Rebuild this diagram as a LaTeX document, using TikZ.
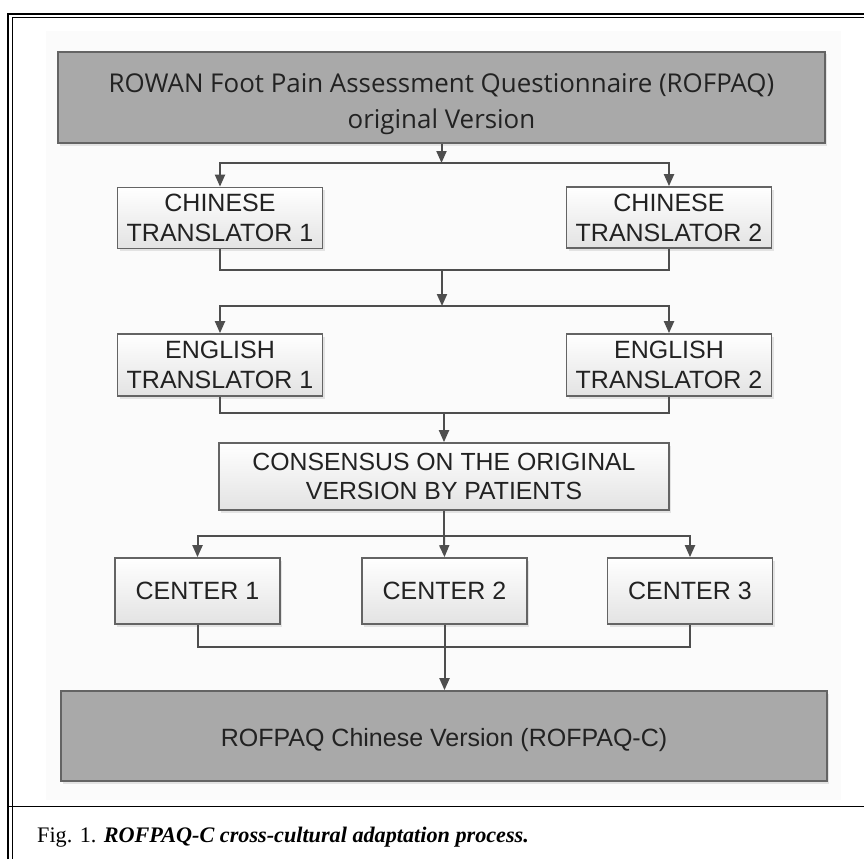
\documentclass[tikz,border=0pt]{standalone}
\usepackage{fontspec}
\setmainfont{Liberation Serif}
\newfontfamily\arialf{Liberation Sans}
\newfontfamily\opensf{Open Sans}
\usetikzlibrary{arrows.meta,shadows}
\definecolor{darkfill}{HTML}{A9A9A9}
\definecolor{boxline}{HTML}{646464}
\definecolor{connline}{HTML}{4E4E4E}
\definecolor{txt}{HTML}{222222}
\definecolor{bgtint}{HTML}{FBFBFB}
\tikzset{
  boxshadow/.style={drop shadow={shadow xshift=2pt,shadow yshift=-2.5pt,fill=black!20}},
  darkbox/.style={draw=boxline,line width=1.7pt,fill=darkfill,boxshadow,
    text=txt,align=center,inner sep=2pt},
  lightbox/.style={draw=boxline,line width=1.7pt,top color=white,bottom color=black!11,
    boxshadow,text=txt,align=center,inner sep=2pt,
    font=\arialf\fontsize{25}{30}\selectfont},
  conn/.style={draw=connline,line width=2pt},
  arr/.style={conn,-{Triangle[length=12pt,width=10pt]}},
}
\begin{document}
\begin{tikzpicture}[x=1pt,y=-1pt]
\useasboundingbox (0,0) rectangle (864,859);
% background tint and frame
\fill[bgtint] (46,31) rectangle (841,800);
\draw[line width=2.2pt,black] (8.3,859) -- (8.3,13.8) -- (864,13.8);
\draw[line width=1pt,black] (12,859) -- (12,17.5) -- (864,17.5);
\draw[line width=1.1pt,black] (8,806.5) -- (864,806.5);
% nodes
\node[darkbox,minimum width=767pt,minimum height=91pt,text height=69pt,
  font=\opensf\fontsize{25.9}{36}\selectfont] (top) at (441.5,97.5)
  {ROWAN Foot Pain Assessment Questionnaire (ROFPAQ)\\original Version};
\node[lightbox,minimum width=205pt,minimum height=61pt] (ct1) at (220,218) {CHINESE\\TRANSLATOR 1};
\node[lightbox,minimum width=205pt,minimum height=61pt] (ct2) at (669,217.5) {CHINESE\\TRANSLATOR 2};
\node[lightbox,minimum width=205pt,minimum height=62pt] (et1) at (220,365) {ENGLISH\\TRANSLATOR 1};
\node[lightbox,minimum width=205pt,minimum height=62pt] (et2) at (669,365) {ENGLISH\\TRANSLATOR 2};
\node[lightbox,minimum width=450pt,minimum height=67pt,
  font=\arialf\fontsize{24.8}{29}\selectfont] (cons) at (444,476.5)
  {CONSENSUS ON THE ORIGINAL\\VERSION BY PATIENTS};
\node[lightbox,minimum width=165pt,minimum height=66pt] (cen1) at (197.5,591) {CENTER 1};
\node[lightbox,minimum width=165pt,minimum height=66pt] (cen2) at (444.5,591) {CENTER 2};
\node[lightbox,minimum width=165pt,minimum height=66pt] (cen3) at (690,591) {CENTER 3};
\node[darkbox,minimum width=766pt,minimum height=90pt,text height=27pt,
  font=\arialf\fontsize{25}{30}\selectfont] (bot) at (444,736)
  {ROFPAQ Chinese Version (ROFPAQ-C)};
\node[anchor=base west,inner sep=0pt,text=black,
  font=\fontsize{22.2}{27}\selectfont] (cap) at (37,842)
  {Fig. 1. \textbf{\textit{ROFPAQ-C cross-cultural adaptation process.}}};
% junction coordinates
\coordinate (j1) at (441.5,163);
\coordinate (j2) at (442,270);
\coordinate (j3) at (442,306);
\coordinate (j4) at (444,413);
\coordinate (j5) at (444,536);
\coordinate (j6) at (444,647);
% connectors
\draw[arr] (top.south) -- (j1);
\draw[arr] (j1) -| (ct1.north);
\draw[arr] (j1) -| (ct2.north);
\draw[conn] (ct1.south) |- (j2);
\draw[conn] (ct2.south) |- (j2);
\draw[arr] (j2) -- (j3);
\draw[arr] (j3) -| (et1.north);
\draw[arr] (j3) -| (et2.north);
\draw[conn] (et1.south) |- (j4);
\draw[conn] (et2.south) |- (j4);
\draw[arr] (j4) -- (cons.north);
\draw[conn] (cons.south) -- (j5);
\draw[arr] (j5) -| (cen1.north);
\draw[arr] (j5) -- (cen2.north);
\draw[arr] (j5) -| (cen3.north);
\draw[conn] (cen1.south) |- (j6) -| (cen3.south);
\draw[arr] (cen2.south) -- (cen2.south |- bot.north);
\end{tikzpicture}
\end{document}
